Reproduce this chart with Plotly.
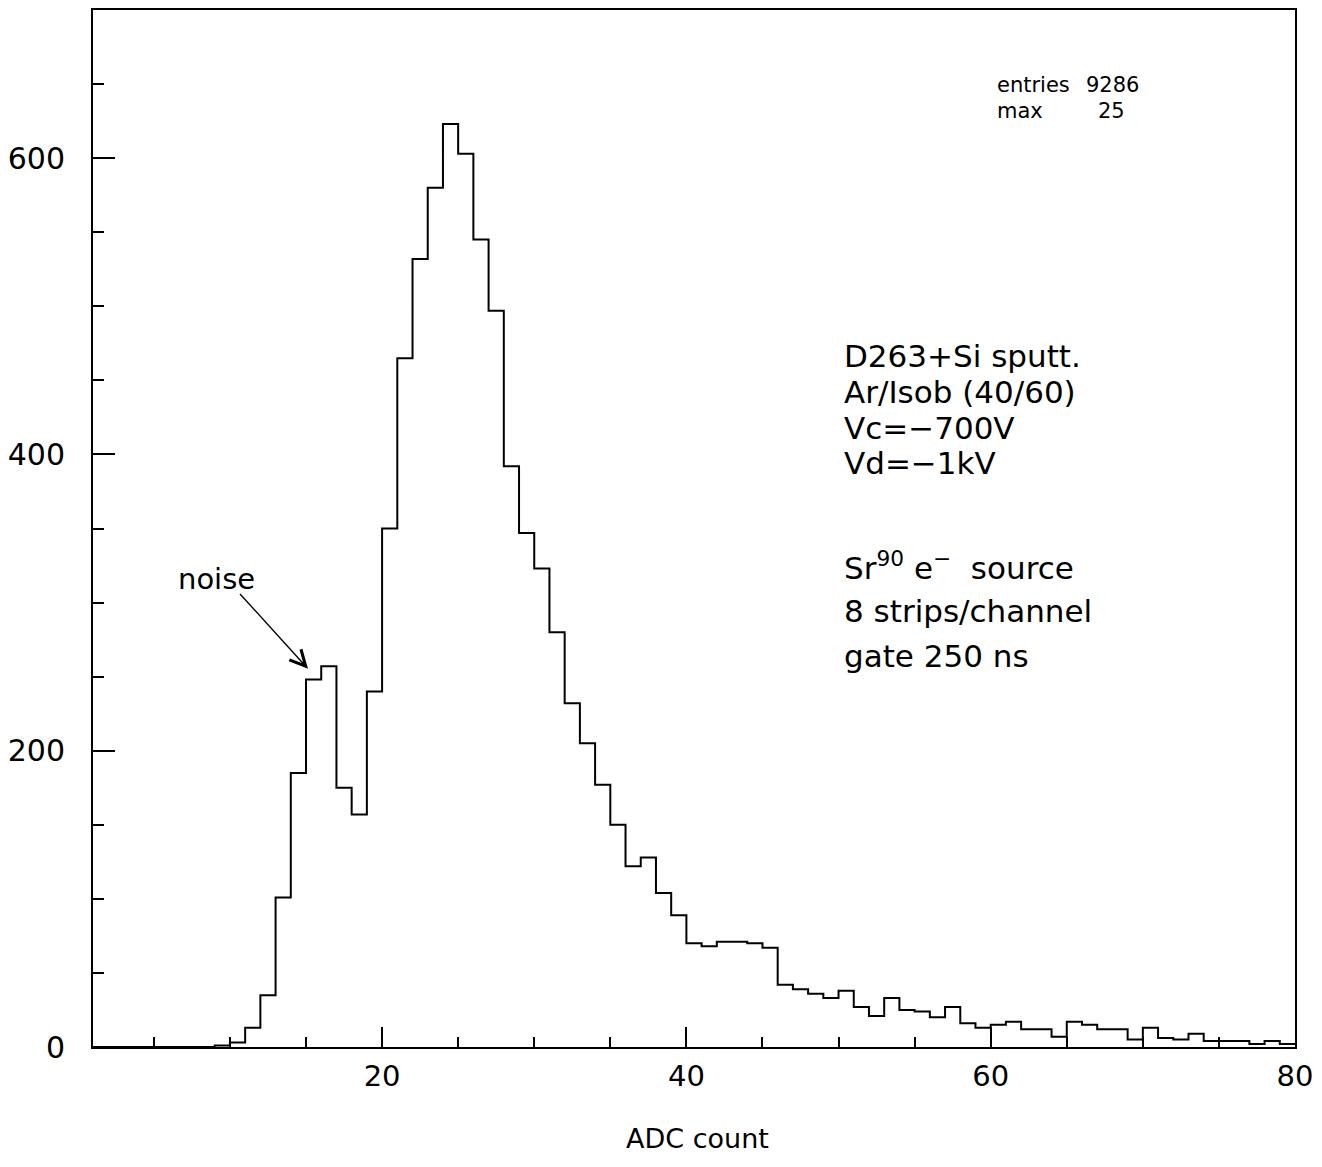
import plotly.graph_objects as go

# ---- data (bin left edges and counts, bin width 1) ----
bin_left = list(range(1, 80))
counts = [0, 0, 0, 0, 0, 0, 0, 0,          # 1-8
          1, 3, 13, 35, 101, 185, 248, 257, 175, 157,   # 9-18
          240, 350, 465, 532, 580, 623, 603, 545, 497, 392,  # 19-28
          347, 323, 280, 232, 205, 177, 150, 122, 128, 104,  # 29-38
          89, 70, 68, 71, 71, 70, 67, 42, 39, 36,            # 39-48
          33, 38, 27, 21, 33, 25, 24, 20, 27, 16,            # 49-58
          13, 15, 17, 12, 12, 7, 17, 15, 12, 12,             # 59-68
          5, 13, 6, 5, 9, 4, 4, 4, 2, 4, 2]                  # 69-79

x_ticks = [20, 40, 60, 80]
y_ticks = [0, 200, 400, 600]

info_lines = ["D263+Si sputt.", "Ar/Isob (40/60)", "Vc=\u2212700V", "Vd=\u22121kV"]
src_lines = ["Sr<sup>90</sup> e<sup>\u2212</sup>  source", "8 strips/channel", "gate 250 ns"]

FONT = "DejaVu Sans"

# step line: hv through left edges plus closing right edge
xs = bin_left + [bin_left[-1] + 1]
ys = counts + [counts[-1]]

fig = go.Figure()
fig.add_trace(go.Scatter(x=xs, y=ys, mode="lines", line=dict(shape="hv", color="black", width=2),
                         hoverinfo="skip", showlegend=False))

# page has an 8px body margin; target frame on screen: x 93..1295, y 7..1047
OFF = 8
W, H = 1322 - 2 * OFF, 1167 - 2 * OFF
FX0, FX1, FY0, FY1 = 93, 1295, 8, 1047
L, R = FX0 - OFF, (W + OFF) - FX1
T, B = FY0 - OFF, (H + OFF) - FY1


def px(xs_):
    return (xs_ - FX0) / (FX1 - FX0)


def py(ys_):
    return (FY1 - ys_) / (FY1 - FY0)


fig.update_layout(
    width=W, height=H,
    margin=dict(l=L, r=R, t=T, b=B, pad=0),
    paper_bgcolor="white", plot_bgcolor="white",
    font=dict(family=FONT, color="black", size=29),
    showlegend=False,
)
fig.update_xaxes(range=[1, 80], tickvals=x_ticks, ticks="inside", ticklen=20, tickwidth=2,
                 tickcolor="black", showline=True, linewidth=2, linecolor="black", mirror=True,
                 showgrid=False, zeroline=False, tickfont=dict(size=29),
                 ticklabelstandoff=2,
                 minor=dict(dtick=5, tick0=0, ticks="inside", ticklen=10, tickwidth=2, tickcolor="black", showgrid=False))
fig.update_yaxes(range=[0, 700], tickvals=y_ticks, ticks="inside", ticklen=22, tickwidth=2,
                 tickcolor="black", showline=True, linewidth=2, linecolor="black", mirror=True,
                 showgrid=False, zeroline=False, tickfont=dict(size=30),
                 ticklabelstandoff=20,
                 minor=dict(dtick=50, tick0=0, ticks="inside", ticklen=11, tickwidth=2, tickcolor="black", showgrid=False))

ann = []
# axis title
ann.append(dict(text="ADC count", xref="paper", yref="paper", x=px(697), y=py(1139), showarrow=False,
                xanchor="center", yanchor="middle", font=dict(size=27)))
# stats box
for txt, xx, yy, anc in [("entries", 995, 83, "left"), ("9286", 1141, 83, "right"),
                         ("max", 995, 109, "left"), ("25", 1127, 109, "right")]:
    ann.append(dict(text=txt, xref="paper", yref="paper", x=px(xx), y=py(yy), showarrow=False,
                    xanchor=anc, yanchor="middle", font=dict(size=21)))
# info text
for i, t in enumerate(info_lines):
    ann.append(dict(text=t, xref="paper", yref="paper", x=px(842), y=py(355 + 35.7 * i), showarrow=False,
                    xanchor="left", yanchor="middle", font=dict(size=31)))
for i, t in enumerate(src_lines):
    ann.append(dict(text=t, xref="paper", yref="paper", x=px(842), y=py(565 + 45 * i), showarrow=False,
                    xanchor="left", yanchor="middle", font=dict(size=31)))
# noise label and arrow
ann.append(dict(text="noise", xref="paper", yref="paper", x=px(216), y=py(578), showarrow=False,
                xanchor="center", yanchor="middle", font=dict(size=29)))
ann.append(dict(text=" ", xref="paper", yref="paper", x=px(308), y=py(668), showarrow=True,
                ax=-70, ay=-77, arrowhead=5, arrowsize=2.2, arrowwidth=1.4, arrowcolor="black",
                font=dict(size=2)))
fig.update_layout(annotations=ann)

fig.write_html("out.html")
